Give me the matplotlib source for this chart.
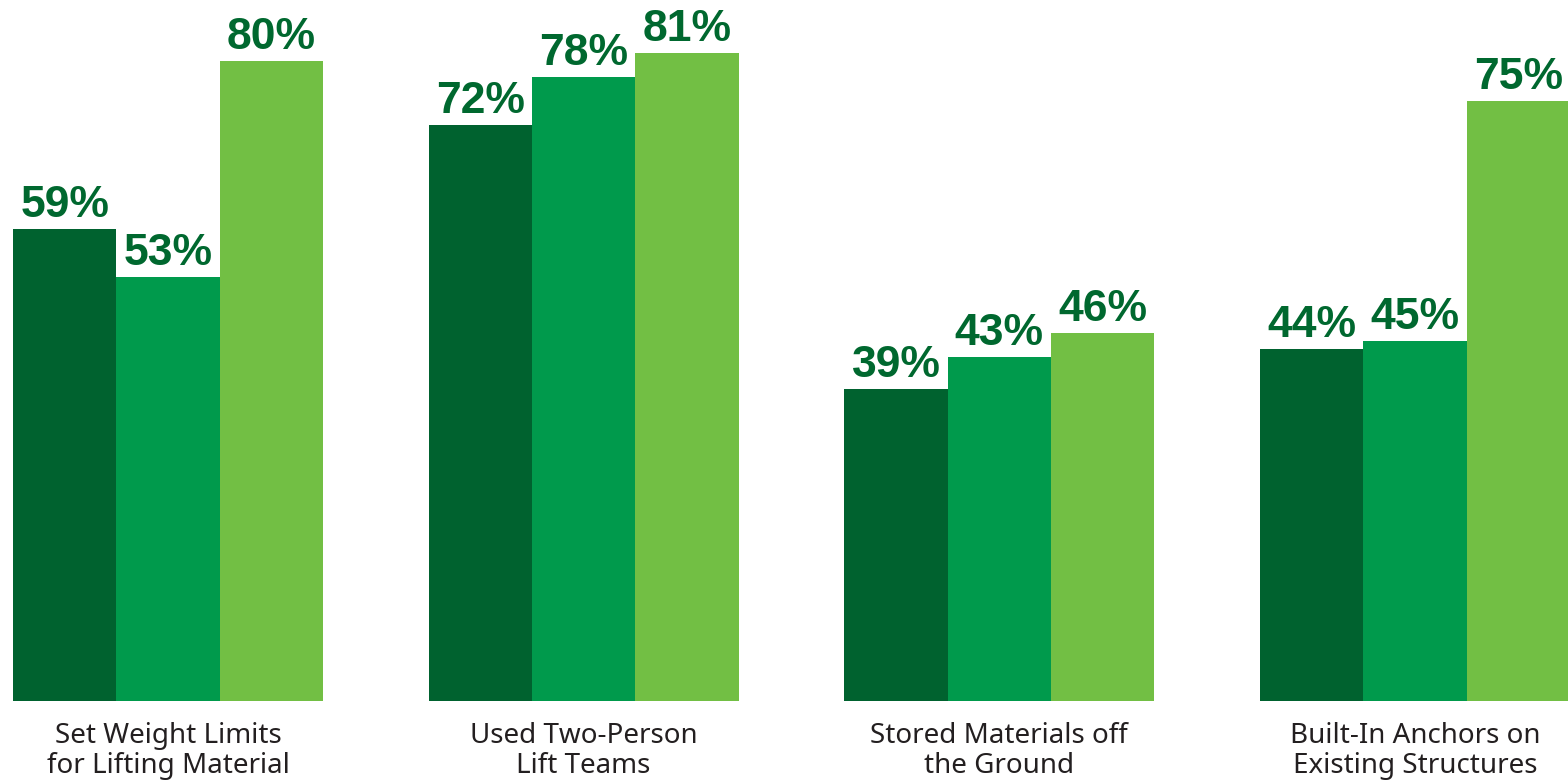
import matplotlib.pyplot as plt
import numpy as np

categories = ["Set Weight Limits\nfor Lifting Material", "Used Two-Person\nLift Teams",
              "Stored Materials off\nthe Ground", "Built-In Anchors on\nExisting Structures"]
series_a = [59, 72, 39, 44]
series_b = [53, 78, 43, 45]
series_c = [80, 81, 46, 75]
colors = ["#00622F", "#009A4C", "#72BF44"]
label_color = "#00682F"

fig = plt.figure(figsize=(15.68, 7.81), dpi=100)
ax = fig.add_axes([13 / 1568, 80 / 781, 1557 / 1568, 701 / 781])

x = np.arange(len(categories))
w = 0.2485
for k, vals in enumerate([series_a, series_b, series_c]):
    pos = x + (k - 1) * w
    ax.bar(pos, vals, width=w, color=colors[k], linewidth=0)
    for px, v in zip(pos, vals):
        ax.annotate(f"{v}%", (px, v), xytext=(0, 2), textcoords="offset points",
                    ha="center", va="bottom", color=label_color, fontsize=32,
                    fontweight="bold", family="Liberation Sans")

ax.set_xlim(-1.5 * w, 3 + 1.5 * w)
ax.set_ylim(0, 87.625)
ax.axis("off")

for i, c in enumerate(categories):
    ax.annotate(c, (x[i], 0), xytext=(0, -15), textcoords="offset points",
                ha="center", va="top", fontsize=20, color="#231F20",
                family="Noto Sans", linespacing=1.12)

fig.savefig("out.png", dpi=100)
